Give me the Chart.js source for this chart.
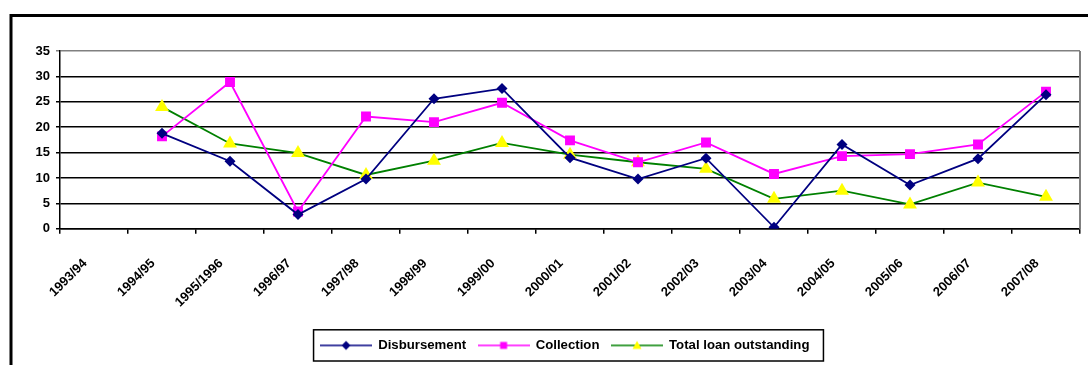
<!DOCTYPE html>
<html>
<head>
<meta charset="utf-8">
<script src="https://cdn.jsdelivr.net/npm/chart.js@4.4.0/dist/chart.umd.min.js"></script>
<style>
html,body{margin:0;padding:0;background:#fff;}
#wrap{width:1088px;height:365px;}
</style>
</head>
<body>
<div id="wrap"><canvas id="mycanvas"></canvas></div>
<script>
var years=['1993/94','1994/95','1995/1996','1996/97','1997/98','1998/99','1999/00','2000/01','2001/02','2002/03','2003/04','2004/05','2005/06','2006/07','2007/08'];
var disbursement=[null,18.8,13.3,2.8,9.8,25.6,27.6,14.0,9.8,13.9,0.3,16.6,8.6,13.8,26.4];
var collection=[null,18.2,28.9,3.4,22.1,21.0,24.8,17.4,13.1,17.0,10.8,14.3,14.7,16.6,27.0];
var loanOutstanding=[null,24.0,16.8,14.9,10.6,13.4,16.9,14.6,13.1,11.8,5.9,7.5,4.8,9.1,6.3];
var yMax=35;
var yStep=5;

// little legend sample: line with the marker in the middle
function swatch(lineColor,shape,fill){
	var c=document.createElement('canvas');
	c.width=52;c.height=14;
	var g=c.getContext('2d');
	g.strokeStyle=lineColor;g.lineWidth=1.5;
	g.beginPath();g.moveTo(0,7);g.lineTo(52,7);g.stroke();
	g.fillStyle=fill;
	g.beginPath();
	if(shape=='diamond'){g.moveTo(26,2.5);g.lineTo(30.5,7);g.lineTo(26,11.5);g.lineTo(21.5,7);}
	else if(shape=='square'){g.rect(22.5,3.5,7,7);}
	else{g.moveTo(26,2.5);g.lineTo(30.5,10.5);g.lineTo(21.5,10.5);}
	g.closePath();g.fill();
	return c;
}
var swatches=[swatch('#000080','diamond','#000080'),swatch('#FF00FF','square','#FF00FF'),swatch('#008000','triangle','#FFFF00')];

var framePlugin={
	id:'frame',
	afterLayout:function(chart){
		// legend sits a bit right of centre in the original
		var L=chart.legend,dx=12;
		L.left+=dx;L.right+=dx;
		(L.legendHitBoxes||[]).forEach(function(h){h.left+=dx;});
	},
	beforeDraw:function(chart){
		var ctx=chart.ctx;
		ctx.save();
		ctx.fillStyle='#fff';
		ctx.fillRect(0,0,chart.width,chart.height);
		ctx.strokeStyle='#000';
		ctx.lineWidth=3;
		ctx.beginPath();
		ctx.moveTo(11,chart.height);
		ctx.lineTo(11,15.5);
		ctx.lineTo(chart.width,15.5);
		ctx.stroke();
		ctx.restore();
	},
	beforeDatasetsDraw:function(chart){
		var a=chart.chartArea,ctx=chart.ctx;
		ctx.save();
		ctx.strokeStyle='#808080';
		ctx.lineWidth=2;
		ctx.beginPath();
		ctx.moveTo(a.right,a.top);
		ctx.lineTo(a.right,a.bottom);
		ctx.stroke();
		ctx.restore();
	},
	afterDraw:function(chart){
		var hb=chart.legend.legendHitBoxes;
		if(!hb||!hb.length)return;
		var first=hb[0],last=hb[hb.length-1];
		var ctx=chart.ctx;
		ctx.save();
		ctx.strokeStyle='#000';
		ctx.lineWidth=1.5;
		ctx.strokeRect(first.left-7,first.top-9,last.left+last.width-first.left+21,first.height+18);
		ctx.restore();
	}
};

var chartdata={
	labels:years,
	datasets:[
	{
		label:'Disbursement',
		data:disbursement,
		borderColor:'#000080',
		backgroundColor:'#000080',
		borderWidth:1.8,
		pointStyle:'rectRot',
		pointRadius:5.5,
		pointBorderWidth:0,
		tension:0
	},
	{
		label:'Collection',
		data:collection,
		borderColor:'#FF00FF',
		backgroundColor:'#FF00FF',
		borderWidth:1.8,
		pointStyle:'rect',
		pointRadius:7,
		pointBorderWidth:0,
		tension:0
	},
	{
		label:'Total loan outstanding',
		data:loanOutstanding,
		borderColor:'#008000',
		backgroundColor:'#FFFF00',
		borderWidth:1.8,
		pointStyle:'triangle',
		pointRadius:8,
		pointBorderWidth:0,
		tension:0
	}
	]
};

Chart.defaults.font.family='"Liberation Sans", Arial, sans-serif';
Chart.defaults.color='#000';

var ctx=document.getElementById('mycanvas');
var lineGraph=new Chart(ctx,{
	type:'line',
	data:chartdata,
	plugins:[framePlugin],
	options:{
		responsive:true,
		maintainAspectRatio:false,
		animation:false,
		layout:{padding:{left:26,right:8,top:51,bottom:3}},
		plugins:{
			tooltip:{enabled:false},
			legend:{
				position:'bottom',
				labels:{
					usePointStyle:true,
					pointStyleWidth:51,
					boxHeight:13,
					padding:12,
					font:{size:13.2,weight:'bold'},
					generateLabels:function(chart){
						var items=Chart.defaults.plugins.legend.labels.generateLabels(chart);
						items.forEach(function(it,i){it.pointStyle=swatches[i];});
						return items;
					}
				}
			}
		},
		scales:{
			x:{
				offset:true,
				grid:{offset:true,drawOnChartArea:false,drawTicks:true,tickLength:5,color:'#000',lineWidth:1.5},
				border:{color:'#000',width:1.5},
				ticks:{autoSkip:false,maxRotation:45,minRotation:45,padding:22,labelOffset:-9,font:{size:13,weight:'bold'},color:'#000'},
				afterFit:function(s){s.height=98;s.paddingLeft=0;s.paddingRight=0;}
			},
			y:{
				min:0,
				max:yMax,
				grid:{
					color:function(c){return c.tick&&c.tick.value==yMax?'#808080':'#000';},
					lineWidth:1.5,
					tickLength:4
				},
				border:{color:'#000',width:1.5},
				ticks:{stepSize:yStep,padding:6,font:{size:13,weight:'bold'},color:'#000'},
				afterFit:function(s){s.width=34;}
			}
		}
	}
});
</script>
</body>
</html>
